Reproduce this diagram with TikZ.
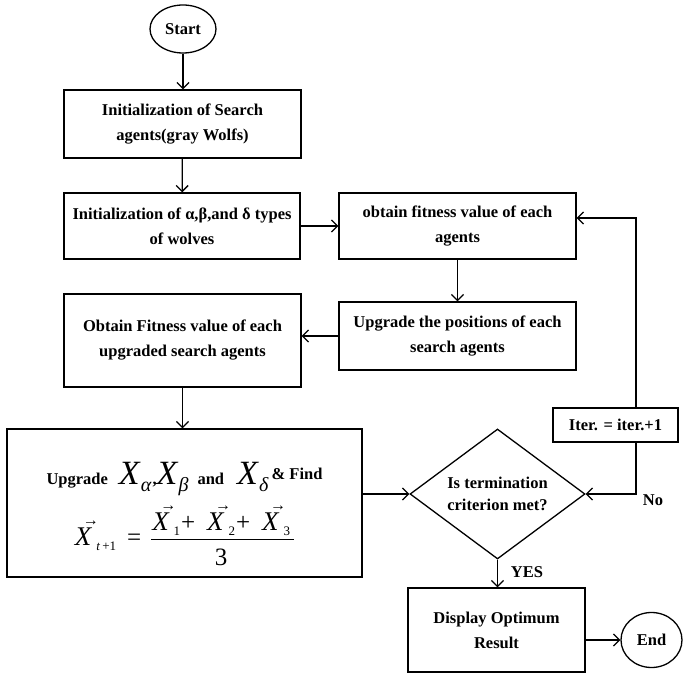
\documentclass[tikz,border=0pt]{standalone}
\usepackage{fontspec}
\setmainfont{Liberation Serif}
\usepackage{tikz}
\usetikzlibrary{arrows.meta,positioning,shapes.geometric,calc}

% big wolf position symbol with a greek subscript
\newcommand{\wolfX}[1]{\mbox{\mdseries\fontsize{34}{34}\selectfont\textit{X}\raisebox{-7pt}{\fontsize{20}{20}\selectfont\textit{#1}}}}
% vector X with a small arrow on top
\newcommand{\vecX}[1]{\mbox{\fontsize{27}{27}\selectfont\rlap{\hspace{8pt}\raisebox{20pt}{\fontsize{16}{16}\selectfont →}}\textit{X}\hspace{4pt}\raisebox{-5pt}{\fontsize{13}{13}\selectfont #1}}}

\begin{document}
\begin{tikzpicture}[
    x=1pt, y=-1pt,
    box/.style={draw, line width=1.3pt, align=center, inner sep=2pt,
      font=\bfseries\fontsize{16.5}{25}\selectfont},
    term/.style={draw, ellipse, line width=1.3pt, inner sep=0pt,
      font=\bfseries\fontsize{16.5}{20}\selectfont},
    decision/.style={draw, diamond, aspect=1.35, line width=1.3pt, inner sep=0pt,
      align=center, font=\bfseries\fontsize{16.5}{22}\selectfont},
    lbl/.style={font=\bfseries\fontsize{16.5}{20}\selectfont},
    arr/.style={-{Straight Barb[length=6pt,width=12pt]}, line width=1.3pt}
  ]
    \useasboundingbox (0,0) rectangle (683,676);

    % Left column
    \node[term, minimum width=66pt, minimum height=48pt] (start) at (183,29) {Start};
    \node[box, minimum width=237pt, minimum height=68pt] (init) at (182.5,124)
      {Initialization of Search\\agents(gray Wolfs)};
    \node[box, minimum width=236pt, minimum height=66pt] (types) at (182,226)
      {Initialization of α,β,and δ types\\of wolves};
    \node[box, minimum width=237pt, minimum height=93pt] (newfit) at (182.5,340.5)
      {Obtain Fitness value of each\\upgraded search agents};
    \node[box, minimum width=355pt, minimum height=148pt] (upd) at (184.5,503)
      {\rule{0pt}{52pt}Upgrade\hspace{11pt}\wolfX{α}\hspace{1pt},\wolfX{β}\hspace{9pt}and\hspace{13pt}\wolfX{δ}\hspace{3pt}\raisebox{5pt}{\& Find}\\[9pt]
       {\mdseries\fontsize{25}{25}\selectfont\setlength{\arrayrulewidth}{1pt}%
        \vecX{\textit{t}\,+1}\hspace{11pt}=\hspace{10pt}\begin{tabular}[c]{@{\hspace{1pt}}c@{\hspace{4pt}}}
          \vecX{1}\hspace{1pt}+\hspace{12pt}\vecX{2}\hspace{1pt}+\hspace{12pt}\vecX{3}\\[1pt]\hline
          \rule{0pt}{26pt}3\end{tabular}}};

    % Right column
    \node[box, minimum width=237pt, minimum height=66pt] (fit) at (457.5,226)
      {obtain fitness value of each\\agents};
    \node[box, minimum width=237pt, minimum height=68pt] (pos) at (457.5,336)
      {Upgrade the positions of each\\search agents};
    \node[decision, minimum width=175pt, minimum height=130pt] (term) at (497.5,494)
      {Is termination\\criterion met?};
    \node[box, minimum width=125pt, minimum height=34pt] (iter) at (615.5,425)
      {Iter. = iter.+1};
    \node[box, minimum width=177pt, minimum height=84pt] (disp) at (496.5,630)
      {Display Optimum\\Result};
    \node[term, minimum width=61pt, minimum height=55pt] (end) at (651.5,640) {End};

    % Branch labels
    \node[lbl] (yes) at (527,572) {YES};
    \node[lbl] (no) at (653,500) {No};
    \coordinate (loop) at (636,0);

    % Main flow
    \draw[arr] (start.south) -- (start.south |- init.north);
    \draw[arr] (init) -- (types);
    \draw[arr] (types) -- (fit);
    \draw[arr] (fit) -- (pos);
    \draw[arr] (pos.west) -- (pos.west -| newfit.east);
    \draw[arr] (newfit.south) -- (newfit.south |- upd.north);
    \draw[arr] (upd.east |- term.west) -- (term.west);
    \draw[arr] (term.south) -- (term.south |- disp.north);
    \draw[arr] (disp.east |- end.west) -- (end.west);

    % Loop back (No)
    \draw[arr] (loop |- iter.south) |- (term.east);
    \draw[arr] (loop |- iter.north) |- ([yshift=8pt]fit.east);
  \end{tikzpicture}
\end{document}
